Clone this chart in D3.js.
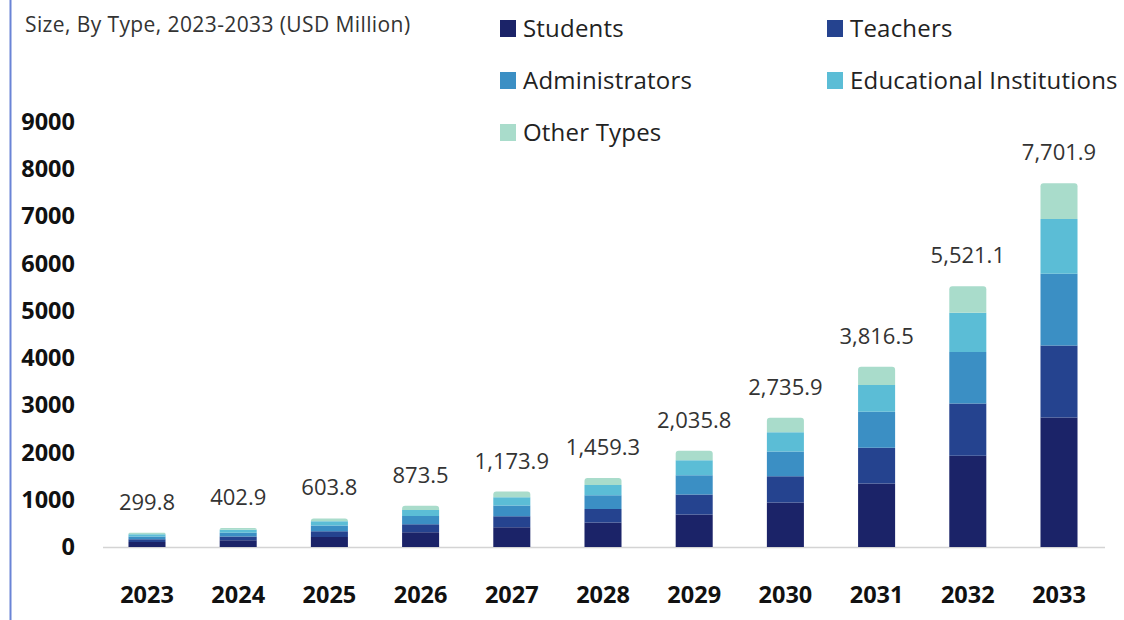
<!DOCTYPE html>
<html>
<head>
<meta charset="utf-8">
<script src="https://cdn.jsdelivr.net/npm/d3@7"></script>
<style>
  html, body { margin: 0; padding: 0; background: #fff; }
  svg { display: block; font-family: "Open Sans", "Noto Sans", sans-serif; }
</style>
</head>
<body>
<svg id="chart" width="1124" height="620"></svg>
<script>
// Market size by user type, USD million
const years = ["2023","2024","2025","2026","2027","2028","2029","2030","2031","2032","2033"];
const totals = [299.8, 402.9, 603.8, 873.5, 1173.9, 1459.3, 2035.8, 2735.9, 3816.5, 5521.1, 7701.9];
const seriesNames = ["Students", "Teachers", "Administrators", "Educational Institutions", "Other Types"];
const students       = [106, 143, 214, 310, 417, 518, 690, 945, 1345, 1935, 2745];
const teachers       = [60, 80, 120, 173, 232, 289, 420, 555, 755, 1105, 1520];
const administrators = [59, 79, 119, 172, 231, 287, 410, 520, 765, 1090, 1520];
const institutions   = [45, 61, 91, 131, 176, 219, 315, 410, 565, 830, 1160];
const otherTypes     = [29.8, 39.9, 59.8, 87.5, 117.9, 146.3, 200.8, 305.9, 386.5, 561.1, 756.9];
const yTicks = [0, 1000, 2000, 3000, 4000, 5000, 6000, 7000, 8000, 9000];
const colors = ["#1b2368", "#25438f", "#3b8fc4", "#5bbdd6", "#a9dccb"];

const seriesValues = [students, teachers, administrators, institutions, otherTypes];
const rows = years.map((y, i) => {
  const r = { year: y, total: totals[i] };
  seriesNames.forEach((s, k) => { r[s] = seriesValues[k][i]; });
  return r;
});

const svg = d3.select("#chart");

// left accent rule
svg.append("line")
  .attr("x1", 10.5).attr("x2", 10.5).attr("y1", 0).attr("y2", 620)
  .attr("stroke", "#6a84d6").attr("stroke-width", 2);

const x = d3.scaleBand().domain(years).range([101.4, 1104.6])
  .paddingInner(0.594).paddingOuter(0.297);
const y = d3.scaleLinear().domain([0, 9000]).range([547, 122]);

// title
svg.append("text")
  .attr("x", 25).attr("y", 32)
  .attr("font-size", 21).attr("letter-spacing", 0.4).attr("fill", "#333")
  .text("Size, By Type, 2023-2033 (USD Million)");

// y axis labels
const yAxis = d3.axisLeft(y).tickValues(yTicks).tickSize(0).tickPadding(0).tickFormat(d3.format("d"));
const yg = svg.append("g").attr("transform", "translate(75,0)").call(yAxis);
yg.select(".domain").remove();
yg.selectAll("text")
  .attr("font-family", "'Open Sans', sans-serif")
  .attr("font-size", 23.5).attr("font-weight", 700).attr("fill", "#111");

// x axis
const xAxis = d3.axisBottom(x).tickSize(0).tickPadding(0);
const xg = svg.append("g").attr("transform", "translate(0,547)").call(xAxis);
xg.select(".domain").remove();
xg.selectAll("text")
  .attr("font-family", "'Open Sans', sans-serif")
  .attr("dy", "2.4em")
  .attr("font-size", 23.5).attr("font-weight", 700).attr("fill", "#111");

// baseline
svg.append("line")
  .attr("x1", 103).attr("x2", 1105).attr("y1", 547.5).attr("y2", 547.5)
  .attr("stroke", "#d4d4d4").attr("stroke-width", 1.5);

// stacked bars
const stack = d3.stack().keys(seriesNames);
const layers = stack(rows);
const r = 3;
layers.forEach((layer, k) => {
  const top = k === layers.length - 1;
  svg.append("g").attr("fill", colors[k])
    .selectAll("path").data(layer).join("path")
    .attr("d", d => {
      const x0 = x(d.data.year), w = x.bandwidth();
      const y0 = y(d[0]), y1 = y(d[1]);
      if (!top) return `M${x0},${y0}V${y1}H${x0 + w}V${y0}Z`;
      const rr = Math.min(r, (y0 - y1));
      return `M${x0},${y0}V${y1 + rr}Q${x0},${y1} ${x0 + rr},${y1}H${x0 + w - rr}Q${x0 + w},${y1} ${x0 + w},${y1 + rr}V${y0}Z`;
    });
});

// total labels
svg.append("g").selectAll("text").data(rows).join("text")
  .attr("x", d => x(d.year) + x.bandwidth() / 2)
  .attr("y", d => y(d.total) - 23)
  .attr("text-anchor", "middle")
  .attr("font-size", 22).attr("fill", "#333")
  .text(d => d3.format(",.1f")(d.total));

// legend
const legendPos = [[500, 28], [827, 28], [500, 80], [827, 80], [500, 132]];
const lg = svg.append("g").selectAll("g").data(seriesNames).join("g")
  .attr("transform", (d, i) => `translate(${legendPos[i][0]},${legendPos[i][1]})`);
lg.append("rect").attr("x", 0).attr("y", -8).attr("width", 16).attr("height", 17)
  .attr("fill", (d, i) => colors[i]);
lg.append("text").attr("x", 23).attr("y", 0).attr("dy", "0.36em")
  .attr("font-size", 24).attr("letter-spacing", 0.2).attr("fill", "#222")
  .text(d => d);
</script>
</body>
</html>
